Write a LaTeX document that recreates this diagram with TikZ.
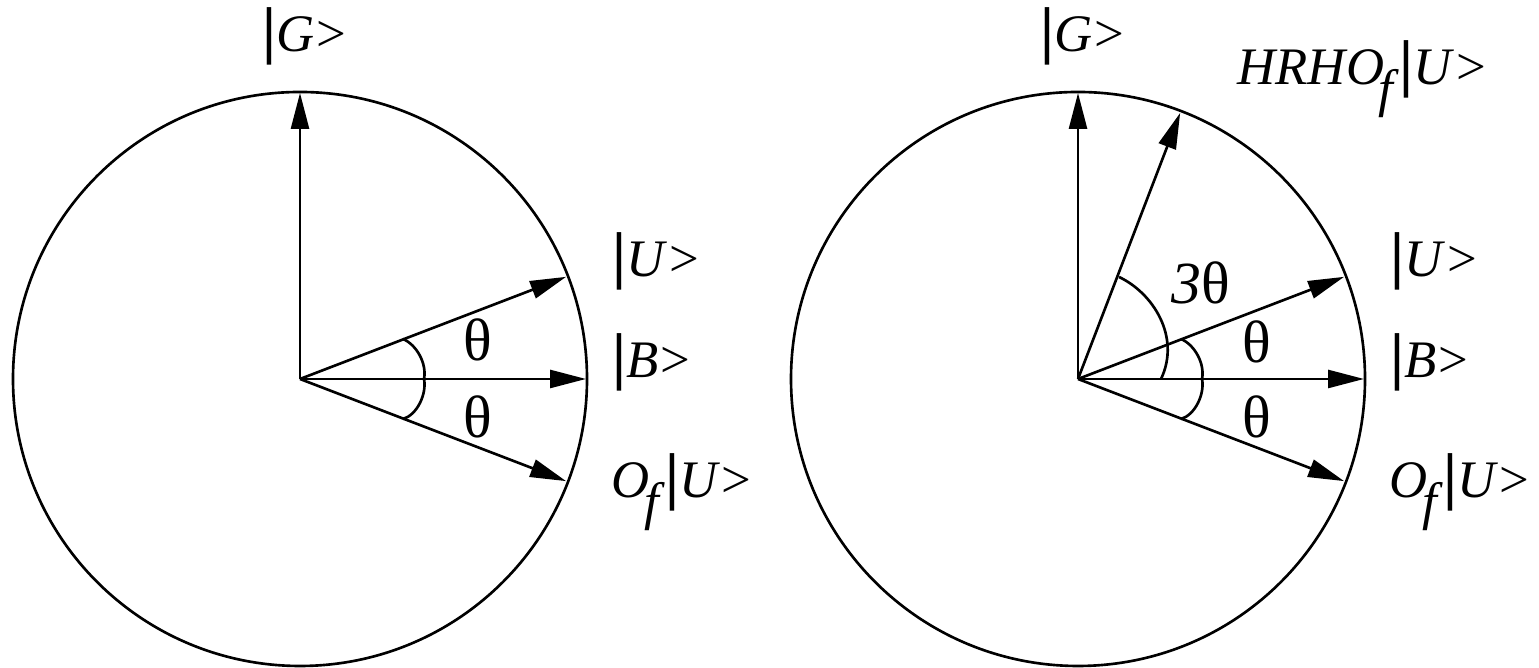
\documentclass[tikz,border=0pt]{standalone}
\usepackage{fontspec}
\setmainfont{Liberation Serif}
\usetikzlibrary{arrows.meta}
\newcommand{\ketof}[1]{{\fontsize{18}{18}\selectfont\textbf{|}}\textit{#1}\kern0.5pt>}
\newcommand{\subf}{\kern-1.5pt\raisebox{-0.4em}{\textit{f}}}

\begin{document}
\begin{tikzpicture}[
    rim/.style={line width=0.75pt},
    vec/.style={line width=0.75pt, -{Triangle[length=3.6mm, width=1.8mm]}},
    angmark/.style={line width=0.75pt},
    lab/.style={anchor=base west, inner sep=0pt, font=\fontsize{15}{17}\selectfont},
    ang/.style={inner sep=0pt, font=\fontsize{17}{19}\selectfont},
]
\useasboundingbox (0,0) rectangle (15.39,6.68);

% left circle
\coordinate (cL) at (3.00,2.89);
\draw[rim] (cL) circle (2.87);
\path (cL) ++(90:2.86) coordinate (gL);
\path (cL) ++(21:2.85) coordinate (uL);
\path (cL) ++(0:2.86) coordinate (bL);
\path (cL) ++(-21:2.85) coordinate (oL);
\draw[vec] (cL) -- (gL);
\draw[vec] (cL) -- (uL);
\draw[vec] (cL) -- (bL);
\draw[vec] (cL) -- (oL);
\begin{scope}[shift={(cL)}]
  \draw[angmark] (1.03,0.40) .. controls (1.17,0.34) and (1.27,0.15) .. (1.24,0)
                 .. controls (1.27,-0.15) and (1.17,-0.36) .. (1.03,-0.40);
\end{scope}

\node[lab] (ketGL) at (2.62,6.16) {\ketof{G}};
\node[lab] (ketUL) at (6.12,3.91) {\ketof{U}};
\node[lab] (ketBL) at (6.12,2.90) {\ketof{B}};
\node[lab] (ketOL) at (6.11,1.70) {\textit{O}\subf\ketof{U}};
\node[ang] (thUL) at (4.78,3.28) {θ};
\node[ang] (thDL) at (4.78,2.51) {θ};

% right circle
\coordinate (cR) at (10.78,2.89);
\draw[rim] (cR) circle (2.87);
\path (cR) ++(90:2.86) coordinate (gR);
\path (cR) ++(69:2.85) coordinate (hR);
\path (cR) ++(21:2.85) coordinate (uR);
\path (cR) ++(0:2.86) coordinate (bR);
\path (cR) ++(-21:2.85) coordinate (oR);
\draw[vec] (cR) -- (gR);
\draw[vec] (cR) -- (hR);
\draw[vec] (cR) -- (uR);
\draw[vec] (cR) -- (bR);
\draw[vec] (cR) -- (oR);
\begin{scope}[shift={(cR)}]
  \draw[angmark] (1.03,0.40) .. controls (1.17,0.34) and (1.27,0.15) .. (1.24,0)
                 .. controls (1.27,-0.15) and (1.17,-0.36) .. (1.03,-0.40);
  \draw[angmark] (0.41,1.02) .. controls (0.75,0.86) and (1.03,0.42) .. (0.83,0);
\end{scope}

\node[lab] (ketGR) at (10.40,6.16) {\ketof{G}};
\node[lab] (ketHR) at (12.37,5.83) {\textit{HRHO}\subf\ketof{U}};
\node[lab] (ketUR) at (13.90,3.91) {\ketof{U}};
\node[lab] (ketBR) at (13.90,2.90) {\ketof{B}};
\node[lab] (ketOR) at (13.89,1.70) {\textit{O}\subf\ketof{U}};
\node[ang] (thUR) at (12.57,3.26) {θ};
\node[ang] (thDR) at (12.57,2.51) {θ};
\node[ang] (th3R) at (12.01,3.85) {\textit{3}θ};

\end{tikzpicture}
\end{document}
